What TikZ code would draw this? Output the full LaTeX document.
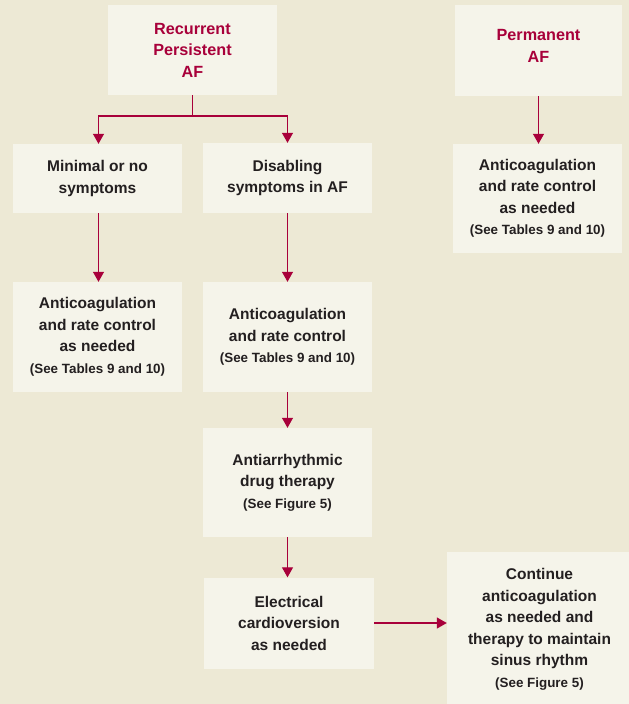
\documentclass[tikz,border=0pt]{standalone}
\usepackage{fontspec}
\setmainfont{Liberation Sans}
\usetikzlibrary{arrows.meta}
\definecolor{pagebg}{HTML}{EDE9D5}
\definecolor{boxfill}{HTML}{F5F4EA}
\definecolor{crimson}{HTML}{A8003A}
\definecolor{ink}{HTML}{231F20}
\newcommand{\seeref}[1]{{\fontsize{13.4}{21.5}\selectfont #1}}
\begin{document}
\begin{tikzpicture}[x=1pt,y=-1pt,
  box/.style={fill=boxfill, draw=none, inner sep=0pt, align=center,
    text=ink, font=\bfseries\fontsize{15.5}{21.5}\selectfont},
  title/.style={box, text=crimson, font=\bfseries\fontsize{16.2}{21.5}\selectfont},
  link/.style={draw=crimson, line width=1.3pt},
  arr/.style={link, -{Triangle[width=11pt,length=10pt]}}]
\fill[pagebg] (0,0) rectangle (629,704);
\useasboundingbox (0,0) rectangle (629,704);

% entry points
\node[title, minimum width=169pt, minimum height=90pt] (rec) at (192.5,50)
  {Recurrent\\Persistent\\AF};
\node[title, minimum width=167pt, minimum height=91pt] (perm) at (538.5,50.5)
  {Permanent\\AF\\[-12pt]\mbox{}};

% second row
\node[box, minimum width=169pt, minimum height=69pt] (minimal) at (97.5,178.5)
  {Minimal or no\\symptoms};
\node[box, minimum width=169pt, minimum height=70pt] (disabling) at (287.5,178)
  {Disabling\\symptoms in AF};
\node[box, minimum width=169pt, minimum height=109pt] (permrate) at (537.5,198.5)
  {Anticoagulation\\and rate control\\as needed\\\seeref{(See Tables 9 and 10)}};

% third row
\node[box, minimum width=169pt, minimum height=110pt] (minrate) at (97.5,337)
  {Anticoagulation\\and rate control\\as needed\\\seeref{(See Tables 9 and 10)}};
\node[box, minimum width=169pt, minimum height=110pt] (disrate) at (287.5,337)
  {Anticoagulation\\and rate control\\\seeref{(See Tables 9 and 10)}};

% rhythm-control path
\node[box, minimum width=169pt, minimum height=109pt] (drug) at (287.5,482.5)
  {Antiarrhythmic\\drug therapy\\\seeref{(See Figure 5)}};
\node[box, minimum width=170pt, minimum height=91pt] (elec) at (289,623)
  {Electrical\\cardioversion\\as needed};
\node[box, minimum width=185pt, minimum height=155pt] (cont) at (539.5,629.5)
  {Continue\\anticoagulation\\as needed and\\therapy to maintain\\sinus rhythm\\\seeref{(See Figure 5)}};

% connectors
\coordinate (split) at (192.5,116);
\draw[link] (rec.south) -- (split);
\draw[arr] (split) -| ([xshift=1pt]minimal.north);
\draw[arr] (split) -| (disabling.north);
\draw[arr] (perm.south) -- (perm.south |- permrate.north);
\draw[arr] ([xshift=1pt]minimal.south) -- ([xshift=1pt]minrate.north);
\draw[arr] (disabling.south) -- (disrate.north);
\draw[arr] (disrate.south) -- (drug.north);
\draw[arr] (drug.south) -- (drug.south |- elec.north);
\draw[arr] (elec.east) -- (elec.east -| cont.west);
\end{tikzpicture}
\end{document}
